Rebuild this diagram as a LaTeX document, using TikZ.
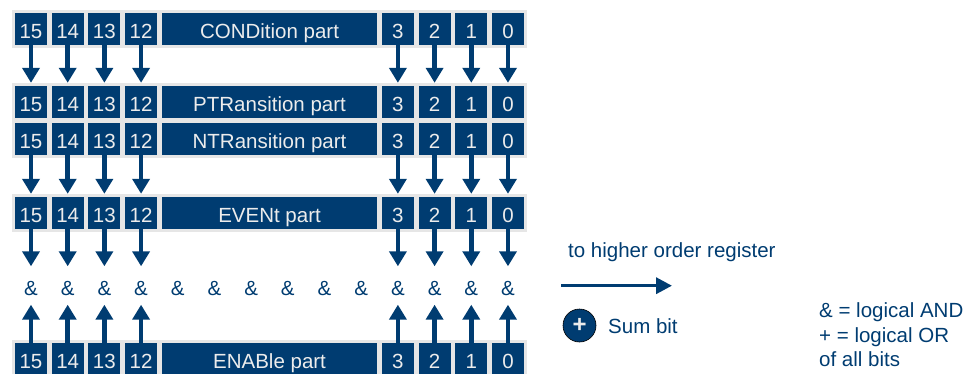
\documentclass[tikz,border=0pt]{standalone}
\usepackage{fontspec}
\setmainfont{Liberation Sans}
\usetikzlibrary{arrows.meta}
\definecolor{dblue}{RGB}{0,60,113}
\definecolor{barg}{RGB}{230,230,230}
\definecolor{btext}{RGB}{236,236,236}
\tikzset{
  bitbox/.style={fill=dblue, minimum width=32pt, minimum height=32pt, inner sep=0pt,
    text=btext, font=\fontsize{20.5}{24}\selectfont, text height=19pt, text depth=0pt},
  widebox/.style={bitbox, minimum width=215.5pt},
  ampnode/.style={inner sep=0pt, minimum height=38pt, text=dblue,
    font=\fontsize{20.5}{24}\selectfont, text height=19pt, text depth=0pt},
  lbl/.style={inner sep=0pt, text=dblue, font=\fontsize{20.5}{24}\selectfont, anchor=base west},
  arr/.style={draw=dblue, line width=4.5pt, -{Triangle[length=15pt,width=17pt]}},
  bar/.style={fill=barg, draw=none}
}
\begin{document}
\begin{tikzpicture}[x=1pt,y=1pt]
\clip (0,0) rectangle (968,-374);
\useasboundingbox (0,0) rectangle (968,-374);
% grey bars
\fill[bar] (12,-10) rectangle (527,-48);
\fill[bar] (12,-83) rectangle (527,-158);
\fill[bar] (12,-193.5) rectangle (527,-231.5);
\fill[bar] (12,-340) rectangle (527,-380);
% wide boxes
\node[widebox] (cw) at (269.55,-29) {CONDition part};
\node[widebox] (pw) at (269.55,-102) {PTRansition part};
\node[widebox] (nw) at (269.55,-139) {NTRansition part};
\node[widebox] (ew) at (269.55,-212.5) {EVENt part};
\node[widebox] (enw) at (269.55,-359) {ENABle part};
% bit boxes and arrows
\foreach \b/\i in {15/0,14/1,13/2,12/3,3/10,2/11,1/12,0/13}{
  \pgfmathsetmacro{\xx}{31+36.69*\i}
  \node[bitbox] (c\b) at (\xx,-29) {\b};
  \node[bitbox] (p\b) at (\xx,-102) {\b};
  \node[bitbox] (n\b) at (\xx,-139) {\b};
  \node[bitbox] (e\b) at (\xx,-212.5) {\b};
  \node[bitbox] (en\b) at (\xx,-359) {\b};
  \node[ampnode] (a\b) at (\xx,-285.5) {\&};
  \draw[arr, shorten >=3pt] (c\b.south) -- (p\b.north);
  \draw[arr, shorten >=2.5pt] (n\b.south) -- (e\b.north);
  \draw[arr] (e\b.south) -- (a\b.north);
  \draw[arr] (en\b.north) -- (a\b.south);
}
\foreach \i in {4,...,9}{
  \pgfmathsetmacro{\xx}{31+36.69*\i}
  \node[ampnode] (m\i) at (\xx,-285.5) {\&};
}
% legend
\node[lbl] (reg) at (568,-257) {to higher order register};
\coordinate (rs) at (561,-285.7);
\coordinate (re) at (672,-285.7);
\draw[draw=dblue, line width=3.5pt, -{Triangle[length=16pt,width=16pt]}] (rs) -- (re);
\node[circle, fill=dblue, draw=black, line width=0.6pt, minimum size=33pt, inner sep=0pt,
  text=btext, font=\fontsize{24}{24}\selectfont\bfseries] (sum) at (579.5,-325.5) {+};
\node[lbl] (sumt) at (608,-333) {Sum bit};
\node[lbl] (l1) at (819,-317) {\& = logical AND};
\node[lbl] (l2) at (819,-342) {+ = logical OR};
\node[lbl] (l3) at (819,-366) {of all bits};
\end{tikzpicture}
\end{document}
